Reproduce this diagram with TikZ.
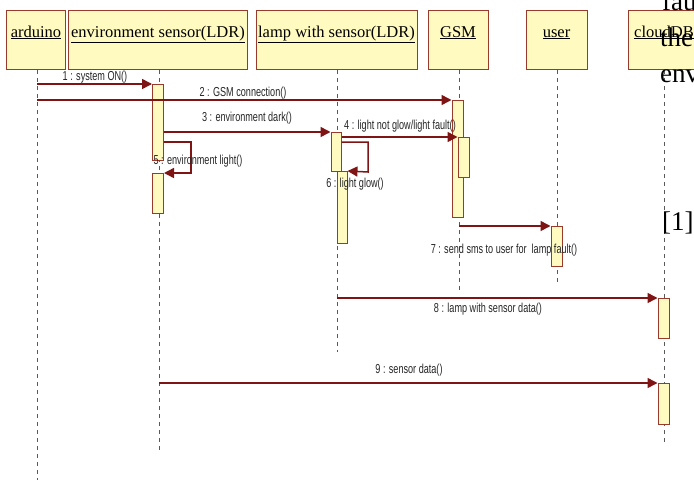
\documentclass[tikz,border=0pt]{standalone}
\usepackage{fontspec}
\setmainfont{Liberation Serif}
\newfontfamily\lblfont[FakeStretch=0.7]{Liberation Sans}
\usetikzlibrary{arrows.meta}
\definecolor{msgred}{HTML}{7F1414}
\definecolor{boxedge}{HTML}{9A3A2A}
\definecolor{boxfill}{HTML}{FFFAC0}
\begin{document}
\begin{tikzpicture}[x=1pt,y=-1pt,
  head/.style={draw=boxedge,fill=boxfill,line width=1.2pt,inner sep=0pt,anchor=north west},
  headtxt/.style={font=\fontsize{16.5}{18}\selectfont,anchor=base,inner sep=0pt},
  bar/.style={draw=boxedge,fill=boxfill,line width=1pt,inner sep=0pt,minimum width=11pt,anchor=north},
  lifeline/.style={draw=black!65,line width=0.8pt,dash pattern=on 4pt off 4pt},
  msg/.style={draw=msgred,line width=1.5pt,-{Triangle[length=10pt,width=10pt]}},
  lbl/.style={font=\lblfont\fontsize{13}{15}\selectfont,inner sep=0pt,text=black!85},
  stray/.style={font=\fontsize{27}{30}\selectfont,anchor=base west,inner sep=0pt}]
\useasboundingbox (0,0) rectangle (694,480);
\fill[white] (0,0) rectangle (694,480);
% header boxes
\node[head,minimum width=59pt,minimum height=59pt] (ard) at (6,10) {};
\node[head,minimum width=179pt,minimum height=59pt] (env) at (68,10) {};
\node[head,minimum width=161pt,minimum height=59pt] (lamp) at (256,10) {};
\node[head,minimum width=60pt,minimum height=59pt] (gsm) at (428,10) {};
\node[head,minimum width=61pt,minimum height=59pt] (usr) at (526,10) {};
\node[head,minimum width=72pt,minimum height=59pt] (cld) at (628,10) {};
\node[headtxt] (tard) at (36,37) {\underline{arduino}};
\node[headtxt] (tenv) at (158,37) {\underline{environment sensor(LDR)}};
\node[headtxt] (tlamp) at (336.5,37) {\underline{lamp with sensor(LDR)}};
\node[headtxt] (tgsm) at (458,37) {\underline{GSM}};
\node[headtxt] (tusr) at (556.5,37) {\underline{user}};
\node[headtxt] (tcld) at (664,37) {\underline{cloudDB}};
% lifelines
\coordinate (ardend) at (37,480);
\coordinate (envend) at (159,452);
\coordinate (lampend) at (337,352);
\coordinate (gsmend) at (459,290);
\coordinate (usrend) at (557,282);
\coordinate (cldend) at (664,443);
\draw[lifeline] (ardend |- ard.south) -- (ardend);
\draw[lifeline] (envend |- env.south) -- (envend);
\draw[lifeline] (lampend |- lamp.south) -- (lampend);
\draw[lifeline] (gsmend |- gsm.south) -- (gsmend);
\draw[lifeline] (usrend |- usr.south) -- (usrend);
\draw[lifeline] (cldend |- cld.south) -- (cldend);
% activation bars
\node[bar,minimum height=76pt] (e1) at (158,84) {};
\node[bar,minimum height=40pt] (e2) at (158,173) {};
\node[bar,minimum width=10pt,minimum height=39pt] (l1) at (336,132) {};
\node[bar,minimum width=10pt,minimum height=72pt] (l2) at (342,171) {};
\node[bar,minimum height=117pt] (g1) at (457.5,100) {};
\node[bar,minimum height=40pt] (g2) at (463.5,137) {};
\node[bar,minimum height=40pt] (u1) at (556.5,226) {};
\node[bar,minimum height=40pt] (c1) at (663.5,298) {};
\node[bar,minimum height=41pt] (c2) at (663.5,383) {};
% messages
\draw[msg] (ardend |- 0,84) -- (e1.north west);
\draw[msg] (ardend |- 0,100) -- (g1.north west);
\draw[msg] (e1.east |- 0,132) -- (l1.north west);
\draw[msg] (l1.east |- 0,137) -- (g2.north west);
\draw[msg] (e1.east |- 0,142) -- (191,142) -- (191,173) -- (e2.north east);
\draw[msg] (l1.east |- 0,142) -- (368,142) -- (368,172) -- (l2.north east);
\draw[msg] (gsmend |- 0,226) -- (u1.north west);
\draw[msg] (lampend |- 0,298) -- (c1.north west);
\draw[msg] (envend |- 0,383) -- (c2.north west);
% labels
\node[lbl] (m1) at (95,77) {1 : system ON()};
\node[lbl] (m2) at (243,93) {2 : GSM connection()};
\node[lbl] (m3) at (247,118) {3 : environment dark()};
\node[lbl] (m4) at (400,126) {4 : light not glow/light fault()};
\node[lbl] (m5) at (198,161) {5 : environment light()};
\node[lbl] (m6) at (355,184) {6 : light glow()};
\node[lbl] (m7) at (504,250) {7 : send sms to user for\ \ lamp fault()};
\node[lbl] (m8) at (488,309) {8 : lamp with sensor data()};
\node[lbl] (m9) at (409,370) {9 : sensor data()};
% stray page text
\node[stray] (s1) at (662,10) {fau};
\node[stray] (s2) at (660,46) {the};
\node[stray] (s3) at (660,82) {env};
\node[stray] (s4) at (662,230) {[1]};
\end{tikzpicture}
\end{document}
